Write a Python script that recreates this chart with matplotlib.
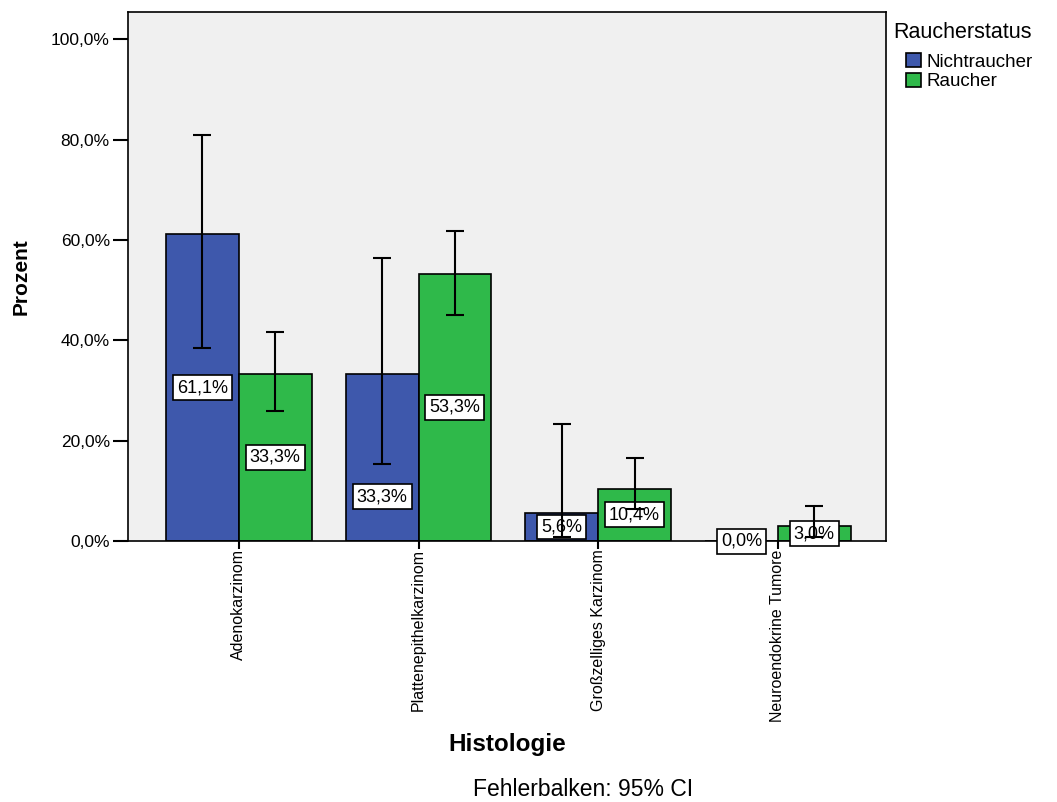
import numpy as np
import matplotlib.pyplot as plt
from matplotlib.ticker import FuncFormatter

# ======================================================
# DATA
# ======================================================

categories = [
    "Adenokarzinom",
    "Plattenepithelkarzinom",
    "Großzelliges Karzinom",
    "Neuroendokrine Tumore",
]
groups = ["Nichtraucher", "Raucher"]

nicht_pct = [61.1, 33.3, 5.6, 0.0]
nicht_ci_low = [38.4, 15.3, 0.8, np.nan]
nicht_ci_high = [80.9, 56.4, 23.3, np.nan]

raucher_pct = [33.3, 53.3, 10.4, 3.0]
raucher_ci_low = [25.9, 45.0, 6.4, 0.9]
raucher_ci_high = [41.6, 61.8, 16.5, 7.0]

# y position of the value boxes (SPSS nudges some away from the whiskers)
nicht_label_y = [30.55, 8.8, 2.8, 0.0]
raucher_label_y = [16.65, 26.65, 5.2, 1.5]

# ======================================================
# STYLE
# ======================================================

COLORS = ["#3e58ac", "#2fb94a"]
BG = "#f0f0f0"
BAR_W = 0.405
W, H = 1057, 802

plt.rcParams["font.family"] = ["Liberation Sans", "DejaVu Sans"]

fig = plt.figure(figsize=(W / 100, H / 100), dpi=100)
ax = fig.add_axes([0.121, 0.3254, 0.717, 0.6596])
ax.set_facecolor(BG)

x = np.arange(len(categories))
series = [
    (nicht_pct, nicht_ci_low, nicht_ci_high, nicht_label_y),
    (raucher_pct, raucher_ci_low, raucher_ci_high, raucher_label_y),
]

for i, (vals, lo, hi, lab_y) in enumerate(series):
    pos = x + (i - 0.5) * BAR_W
    vals = np.array(vals)
    lo = np.array(lo)
    hi = np.array(hi)
    ax.bar(pos, vals, width=BAR_W, color=COLORS[i], edgecolor="black",
           linewidth=1.2, label=groups[i], zorder=2)

    ok = ~np.isnan(lo)
    ax.errorbar(pos[ok], vals[ok],
                yerr=[vals[ok] - lo[ok], hi[ok] - vals[ok]],
                fmt="none", ecolor="black", elinewidth=1.5,
                capsize=6.5, capthick=1.5, zorder=4)

    for p, v, ly in zip(pos, vals, lab_y):
        ax.text(p, ly, f"{v:.1f}%".replace(".", ","), ha="center",
                va="center", fontsize=13, zorder=3,
                bbox=dict(boxstyle="square,pad=0.22", fc="white",
                          ec="black", lw=1.2))

# ======================================================
# AXES
# ======================================================

ax.set_xlim(-0.617, 3.6)
ax.set_ylim(0, 105.4)
ax.set_yticks(np.arange(0, 101, 20))
ax.yaxis.set_major_formatter(
    FuncFormatter(lambda v, _: f"{v:.1f}%".replace(".", ",")))
ax.tick_params(axis="y", direction="out", length=11, width=1.5,
               labelsize=12.5, pad=2)

ax.set_xticks(x)
ax.set_xticklabels(categories, rotation=90, va="top", ha="center",
                   fontsize=11.5)
ax.tick_params(axis="x", direction="out", length=6, width=1.5, pad=0)

for sp in ax.spines.values():
    sp.set_linewidth(1.2)

ax.set_ylabel("Prozent", fontsize=15, fontweight="bold")
ax.yaxis.set_label_coords(-0.128, 0.5)
ax.set_xlabel("Histologie", fontsize=17.5, fontweight="bold")
ax.xaxis.set_label_coords(0.5, -0.363)

fig.text(583 / W, 1 - 790 / H, "Fehlerbalken: 95% CI", ha="center",
         va="center", fontsize=16.5)

# legend: title as free text, entries below it
fig.text(893 / W, 1 - 32 / H, "Raucherstatus", ha="left", va="center",
         fontsize=15.5)
ax.legend(loc="upper left", bbox_to_anchor=(906 / W, 1 - 53 / H),
          bbox_transform=fig.transFigure, frameon=False, fontsize=13.5,
          handlelength=0.8, handleheight=0.8, handletextpad=0.3,
          labelspacing=0.1, borderaxespad=0, borderpad=0)

fig.savefig("out.png", dpi=100)
